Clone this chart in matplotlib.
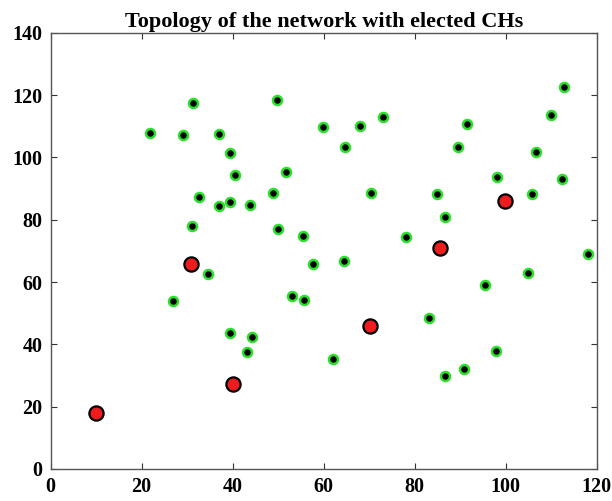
import matplotlib
matplotlib.use('Agg')
import matplotlib.pyplot as plt

# ── Data ─────────────────────────────────────────────────────────────────────

node_x = [21.9, 31.2, 29.1, 37.1, 39.5, 40.5, 32.5, 37.1, 39.5, 43.9,
          31.1, 49.7, 51.8, 48.8, 50.0, 55.5, 59.9, 64.6, 67.9, 73.0,
          70.5, 57.6, 64.5, 53.0, 55.6, 34.6, 26.9, 39.5, 44.2, 43.1,
          62.1, 78.0, 84.9, 86.7, 91.4, 89.5, 98.0, 105.8, 106.6, 110.0,
          112.8, 112.3, 118.1, 104.8, 95.4, 83.1, 97.8, 90.8, 86.6]
node_y = [107.8, 117.4, 107.1, 107.5, 101.4, 94.2, 87.2, 84.3, 85.6, 84.7,
          78.1, 118.4, 95.4, 88.6, 77.1, 74.8, 109.7, 103.3, 110.2, 112.9,
          88.6, 65.8, 66.6, 55.4, 54.3, 62.6, 53.8, 43.8, 42.2, 37.4,
          35.4, 74.5, 88.4, 80.9, 110.8, 103.4, 93.7, 88.1, 101.7, 113.5,
          122.6, 93.2, 69.1, 62.9, 58.9, 48.4, 37.9, 32.2, 29.7]

ch_x = [10.0, 30.8, 40.1, 70.1, 85.5, 99.8]
ch_y = [18.1, 65.9, 27.2, 46.0, 71.0, 85.9]

x_ticks = [0, 20, 40, 60, 80, 100, 120]
y_ticks = [0, 20, 40, 60, 80, 100, 120, 140]

# ── Figure ───────────────────────────────────────────────────────────────────

plt.rcParams['font.family'] = ['Liberation Serif', 'DejaVu Serif']
plt.rcParams['font.weight'] = 'bold'

fig = plt.figure(figsize=(6.12, 5.01), dpi=100)
ax = fig.add_axes([0.0828, 0.0639, 0.8922, 0.8707])

# sensor nodes: black core, green ring
ax.scatter(node_x, node_y, s=42, c='black', edgecolors='#2ade2a',
           linewidths=1.8, zorder=3)

# elected cluster heads
ax.scatter(ch_x, ch_y, s=105, c='#ee1c1c', edgecolors='black',
           linewidths=1.6, zorder=4)

ax.set_xlim(0, 120)
ax.set_ylim(0, 140)
ax.set_xticks(x_ticks)
ax.set_yticks(y_ticks)
ax.tick_params(direction='in', top=True, right=True, length=4,
               width=0.8, labelsize=14.5, colors='#333333',
               labelcolor='black', pad=6)
for lbl in ax.get_xticklabels() + ax.get_yticklabels():
    lbl.set_fontweight('bold')
for sp in ax.spines.values():
    sp.set_color('#555555')
    sp.set_linewidth(1.0)

ax.set_title('Topology of the network with elected CHs',
             fontsize=16, fontweight='bold', pad=4)

plt.savefig('out.png', dpi=100)
